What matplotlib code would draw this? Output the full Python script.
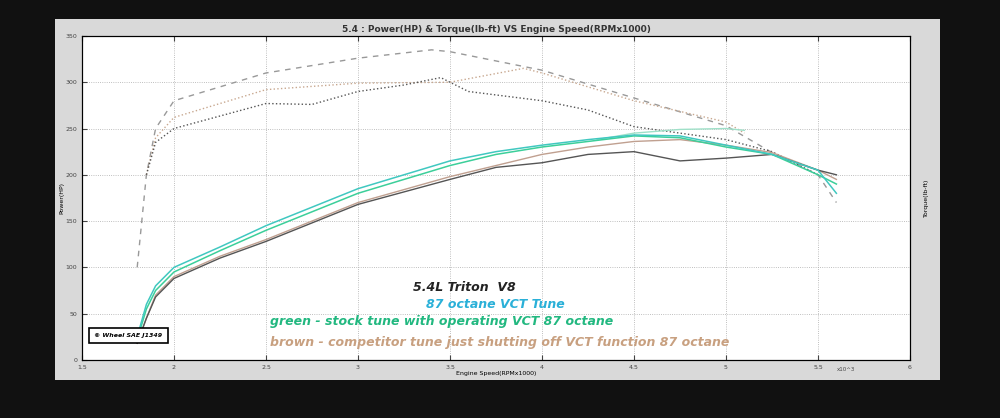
import matplotlib
matplotlib.use("Agg")
import matplotlib.pyplot as plt
import numpy as np

# Power (HP)
rpm_p = [1.8, 1.85, 1.9, 2.0, 2.25, 2.5, 3.0, 3.5, 3.75, 4.0, 4.25, 4.5, 4.75, 5.0, 5.25, 5.5, 5.6]
cyan_power = [25, 60, 80, 100, 122, 145, 185, 215, 225, 232, 238, 243, 242, 232, 222, 205, 180]
green_power = [22, 55, 75, 95, 118, 140, 180, 210, 222, 230, 236, 242, 240, 230, 222, 200, 190]
brown_power = [18, 45, 70, 90, 112, 130, 170, 198, 210, 222, 230, 236, 238, 232, 224, 205, 195]
gray_power = [18, 45, 68, 88, 110, 128, 168, 195, 208, 213, 222, 225, 215, 218, 222, 205, 200]

# Torque (lb-ft)
rpm_t = [1.8, 1.85, 1.9, 2.0, 2.5, 3.0, 3.4, 3.5, 4.0, 4.5, 5.0, 5.25, 5.5, 5.6]
gray_torque = [100, 200, 250, 280, 310, 326, 335, 333, 313, 283, 253, 224, 200, 170]
rpm_t2 = [1.85, 1.9, 2.0, 2.5, 3.0, 3.5, 3.9, 4.0, 4.5, 5.0, 5.1]
brown_torque = [200, 240, 262, 292, 299, 300, 315, 310, 280, 257, 245]
rpm_t3 = [1.85, 1.9, 2.0, 2.5, 2.75, 3.0, 3.25, 3.45, 3.6, 4.0, 4.25, 4.5, 5.0, 5.25, 5.5]
dark_torque = [200, 235, 250, 277, 276, 290, 297, 305, 290, 280, 270, 252, 238, 225, 200]
rpm_t4 = [4.3, 4.5, 4.75, 5.0, 5.1]
green_torque = [238, 245, 249, 250, 248]

fig = plt.figure(figsize=(10, 4.18), dpi=100, facecolor="#111111")
panel = fig.add_axes([0.055, 0.09, 0.885, 0.865])
panel.set_facecolor("#d9d9d9"); panel.set_xticks([]); panel.set_yticks([])
for s in panel.spines.values(): s.set_visible(False)

ax = fig.add_axes([0.082, 0.139, 0.828, 0.775])
ax.set_facecolor("white")
ax.plot(rpm_t, gray_torque, ls=(0, (4, 4)), color="#999999", lw=1.0)
ax.plot(rpm_t2, brown_torque, ls=":", color="#c8a890", lw=1.0)
ax.plot(rpm_t3, dark_torque, ls=":", color="#555555", lw=1.0)
ax.plot(rpm_t4, green_torque, color="#9fe0c8", lw=1.0)
ax.plot(rpm_p, brown_power, color="#c0a090", lw=1.0)
ax.plot(rpm_p, gray_power, color="#555555", lw=1.0)
ax.plot(rpm_p, green_power, color="#3ccf9a", lw=1.1)
ax.plot(rpm_p, cyan_power, color="#40c8c0", lw=1.1)

ax.set_xlim(1.5, 6); ax.set_ylim(0, 350)
ax.set_xticks(np.arange(1.5, 6.01, 0.5))
ax.set_xticklabels(["1.5", "2", "2.5", "3", "3.5", "4", "4.5", "5", "5.5", "6"])
ax.set_yticks(range(0, 351, 50))
ax.tick_params(labelsize=4.5, colors="#444444", direction="in", top=True, right=True, labelright=True)
ax.grid(True, ls=":", color="#aaaaaa", lw=0.6)
ax.set_xlabel("Engine Speed(RPMx1000)", fontsize=4.5, labelpad=1)
ax.set_ylabel("Power(HP)", fontsize=4.5, labelpad=1)
ax2 = ax.twinx(); ax2.set_ylim(0, 350); ax2.set_yticks([])
ax2.set_ylabel("Torque(lb-ft)", fontsize=4.5, labelpad=10)
ax.set_title("5.4 : Power(HP) & Torque(lb-ft) VS Engine Speed(RPMx1000)", fontsize=6.5,
             fontweight="bold", color="#333333", pad=3)
ax.text(5.6, -12, "x10^3", fontsize=4, color="#444444")

kw = dict(transform=ax.transAxes, fontsize=9, fontweight="bold", style="italic", va="center")
ax.text(0.40, 0.225, "5.4L Triton  V8", color="#222222", **kw)
ax.text(0.415, 0.17, "87 octane VCT Tune", color="#2ab0d8", **kw)
ax.text(0.227, 0.117, "green - stock tune with operating VCT 87 octane", color="#22b880", **kw)
ax.text(0.227, 0.055, "brown - competitor tune just shutting off VCT function 87 octane",
        color="#c8a080", **kw)
ax.text(0.015, 0.07, "\u00a9 Wheel SAE J1349", transform=ax.transAxes, fontsize=4.5,
        fontweight="bold", style="italic",
        bbox=dict(boxstyle="square,pad=0.8", fc="white", ec="black", lw=1.2))

fig.savefig("out.png", dpi=100, facecolor=fig.get_facecolor())
